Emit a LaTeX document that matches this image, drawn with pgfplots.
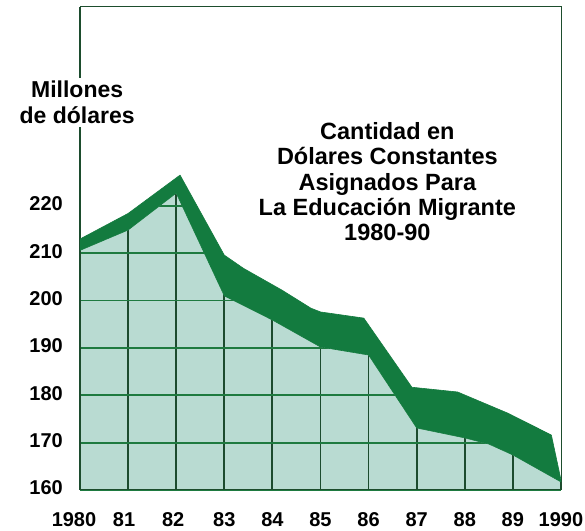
\documentclass[border=0pt]{standalone}
\usepackage{fontspec}
\setmainfont{Liberation Sans}
\usepackage{pgfplots}
\pgfplotsset{compat=1.18}
\definecolor{fillteal}{HTML}{B9DBD2}
\definecolor{band}{HTML}{137B3F}
\definecolor{gridh}{HTML}{1E7A40}
\definecolor{gridv}{HTML}{1C4B2E}
\definecolor{framec}{HTML}{1D4D2D}
\begin{document}
\begin{tikzpicture}
\begin{axis}[
  at={(80bp,41bp)}, anchor=south west,
  scale only axis, width=481bp, height=483bp,
  xmin=1980, xmax=1990, ymin=160, ymax=262,
  set layers,
  clip mode=individual,
  xtick={1980,...,1990},
  xticklabels={\hspace*{-12bp}1980,\hspace*{-8bp}81,\hspace*{-6bp}82,83,84,85,86,87,88,89,1990},
  ytick={160,170,...,220},
  major tick length=0pt,
  grid=major,
  major x grid style={gridv, line width=1.8bp},
  major y grid style={gridh, line width=1.8bp},
  axis line style={framec, line width=1bp},
  /pgf/number format/assume math mode=true,
  ticklabel style={font=\fontsize{20bp}{22bp}\selectfont\bfseries, inner sep=0pt},
  xticklabel style={anchor=north, yshift=-22bp},
  yticklabel style={anchor=east, xshift=-17bp, yshift=2bp},
]
% light area under the curve
\addplot[on layer=axis background, fill=fillteal, draw=none] coordinates {
  (1980,160) (1980,210.6) (1981,214.9) (1982,222.7) (1983,201.0) (1984,195.9)
  (1985,190.2) (1986,188.5) (1987,173.1) (1988,171.0) (1988.5,169.7)
  (1989,167.4) (1990,161.7) (1990,160)} -- cycle;
% white cover above the curve (hides grid there)
\addplot[on layer=axis ticks, fill=white, draw=none] coordinates {
  (1980,210.6) (1981,214.9) (1982,222.7) (1983,201.0) (1984,195.9)
  (1985,190.2) (1986,188.5) (1987,173.1) (1988,171.0) (1988.5,169.7)
  (1989,167.4) (1990,161.7) (1990,262) (1980,262)} -- cycle;
% dark green ribbon
\addplot[fill=band, draw=band, line width=0.6bp, line join=round] coordinates {
  (1980,213.0) (1981,218.4) (1982.08,226.5) (1983,209.6) (1983.4,206.8)
  (1984.2,202.2) (1984.8,198.4) (1985,197.6) (1985.9,196.3) (1986.9,181.7)
  (1987.85,180.7) (1988.9,176.2) (1989.8,171.6) (1990,162.1)
  (1990,161.7) (1989,167.4) (1988.5,169.7) (1988,171.0) (1987,173.1)
  (1986,188.5) (1985,190.2) (1984,195.9) (1983,201.0) (1982,222.7)
  (1981,214.9) (1980,210.6)} -- cycle;
\node[fill=white, inner xsep=2bp, inner ysep=3bp, align=center,
  font=\fontsize{23bp}{26bp}\selectfont\bfseries] at (axis cs:1979.94,241.9)
  {Millones\\de dólares};
\node[align=center, font=\fontsize{23.5bp}{25.3bp}\selectfont\bfseries]
  at (axis cs:1986.39,225.1)
  {Cantidad en\\Dólares Constantes\\Asignados Para\\La Educación Migrante\\1980-90};
\end{axis}
\pgfresetboundingbox
\useasboundingbox (0,0) rectangle (585bp,531bp);
\end{tikzpicture}
\end{document}
